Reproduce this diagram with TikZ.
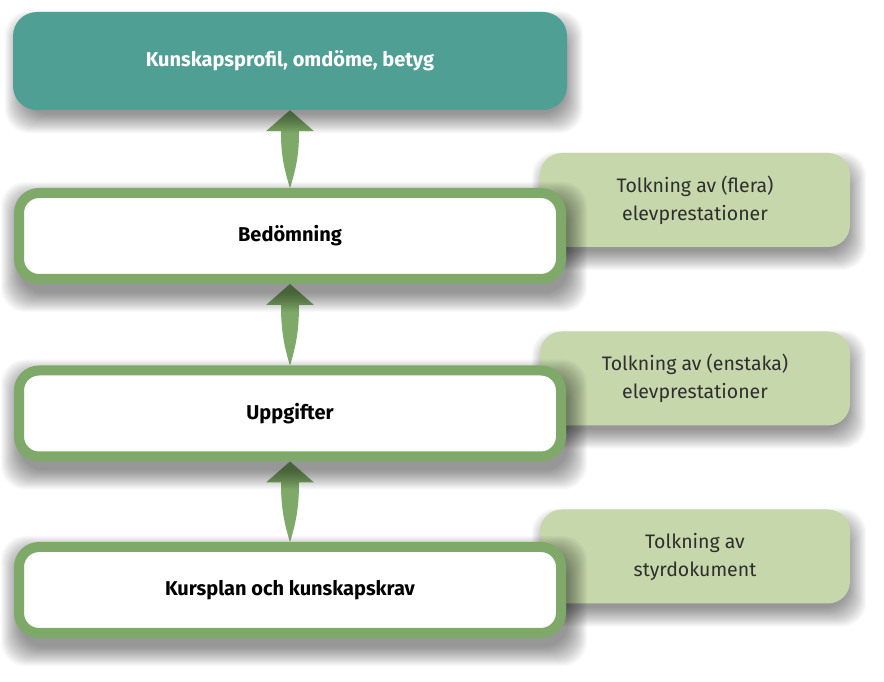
\documentclass[tikz,border=0pt]{standalone}
\usepackage{fontspec}
\setmainfont{Fira Sans}
\usetikzlibrary{calc}
\definecolor{tealbox}{HTML}{4F9F95}
\definecolor{bordergreen}{HTML}{7EA968}
\definecolor{sidegreen}{HTML}{C5D7AB}
\definecolor{sidetext}{HTML}{2E2E2E}
\pgfdeclarelayer{paper}
\pgfdeclarelayer{sideshadow}
\pgfdeclarelayer{side}
\pgfdeclarelayer{arrows}
\pgfdeclarelayer{mainshadow}
\pgfsetlayers{paper,sideshadow,side,arrows,mainshadow,main}
\tikzset{
  topbox/.style={rectangle, rounded corners=24pt, fill=tealbox, minimum width=554pt, minimum height=98pt,
    inner sep=0pt, text=white, font=\bfseries\fontsize{20}{24}\selectfont},
  mainbox/.style={rectangle, rounded corners=20pt, draw=bordergreen, line width=10pt, fill=white,
    minimum width=542pt, minimum height=86pt, inner sep=0pt, text=black,
    font=\bfseries\fontsize{20}{24}\selectfont},
  sidebox/.style={rectangle, rounded corners=22pt, fill=sidegreen, minimum width=310pt, minimum height=94pt,
    inner sep=0pt, align=center, text=sidetext, font=\fontsize{19.5}{28}\selectfont},
  grarrow/.style={fill=bordergreen},
  shadowstep/.style={fill=black, opacity=0.022, rounded corners=24pt}
}
% #1 node name, #2 half of border width
\newcommand\dropshadow[2]{%
  \foreach \k in {-7,-6,...,12} {
    \fill[shadowstep] ($(#1.south west)+({4-#2-(\k)},{-11-#2-(\k)})$) rectangle
                      ($(#1.north east)+({4+#2+(\k)},{-11+#2+(\k)})$);
  }}
\newcommand\greenuparrow[2]{%
  \fill[grarrow] (#1.north) .. controls ($(#1.north)+(-7,22)$) and ($(#2.south)+(-9,-42)$) ..
    ($(#2.south)+(-9,-21)$) -- ($(#2.south)+(-24,-21)$) -- (#2.south) -- ($(#2.south)+(24,-21)$) --
    ($(#2.south)+(9,-21)$) .. controls ($(#2.south)+(9,-42)$) and ($(#1.north)+(7,22)$) .. (#1.north) -- cycle;}
\begin{document}
\begin{tikzpicture}[x=1pt,y=1pt]
\useasboundingbox (0,0) rectangle (884,682);
\begin{pgfonlayer}{paper}
  \fill[white] (0,0) rectangle (884,682);
\end{pgfonlayer}
% main column
\node[topbox] (top) at (290,621) {Kunskapsprofil, omdöme, betyg};
\node[mainbox] (bed) at (290,446) {Bedömning};
\node[mainbox] (upp) at (290,268.5) {Uppgifter};
\node[mainbox] (kur) at (290,92) {Kursplan och kunskapskrav};
\begin{pgfonlayer}{side}
  \node[sidebox] (s1) at (695,482) {Tolkning av (flera)\\elevprestationer};
  \node[sidebox] (s2) at (695,303.5) {Tolkning av (enstaka)\\elevprestationer};
  \node[sidebox] (s3) at (695,125.5) {Tolkning av\\styrdokument};
\end{pgfonlayer}
\begin{pgfonlayer}{sideshadow}
  \dropshadow{s1}{0}
  \dropshadow{s2}{0}
  \dropshadow{s3}{0}
\end{pgfonlayer}
\begin{pgfonlayer}{mainshadow}
  \dropshadow{top}{0}
  \dropshadow{bed}{5}
  \dropshadow{upp}{5}
  \dropshadow{kur}{5}
\end{pgfonlayer}
\begin{pgfonlayer}{arrows}
  \greenuparrow{bed}{top}
  \greenuparrow{upp}{bed}
  \greenuparrow{kur}{upp}
\end{pgfonlayer}
\end{tikzpicture}
\end{document}
